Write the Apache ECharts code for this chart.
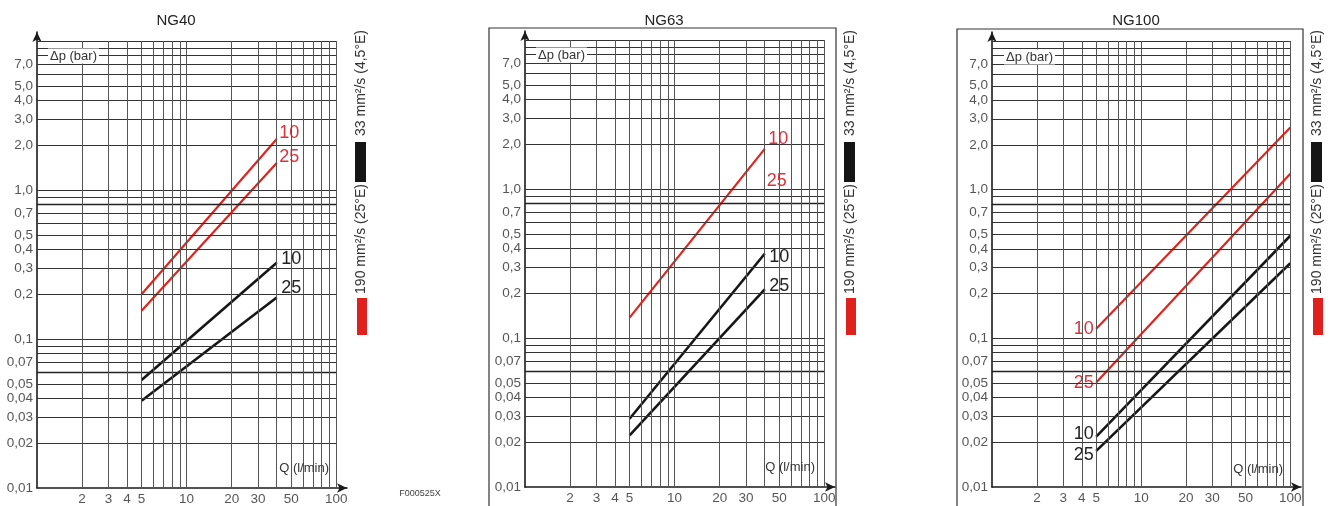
<!DOCTYPE html>
<html><head><meta charset="utf-8">
<script src="https://cdn.jsdelivr.net/npm/echarts@6/dist/echarts.min.js"></script>
<style>html,body{margin:0;padding:0;background:#fff}#c{width:1333px;height:506px}</style>
</head><body><div id="c"></div>
<script>
// ---- tick labels & grid values ----
const xTicks = [2, 3, 4, 5, 10, 20, 30, 50, 100];
const xTickLabels = ['2', '3', '4', '5', '10', '20', '30', '50', '100'];
const yTicks = [0.01, 0.02, 0.03, 0.04, 0.05, 0.07, 0.1, 0.2, 0.3, 0.4, 0.5, 0.7, 1, 2, 3, 4, 5, 7];
const yTickLabels = ['0,01', '0,02', '0,03', '0,04', '0,05', '0,07', '0,1', '0,2', '0,3', '0,4', '0,5', '0,7', '1,0', '2,0', '3,0', '4,0', '5,0', '7,0'];
const xGrid = [2, 3, 4, 5, 6, 7, 8, 9, 10, 20, 30, 40, 50, 60, 70, 80, 90, 100];
const yGrid = [0.01, 0.02, 0.03, 0.04, 0.05, 0.06, 0.07, 0.08, 0.09, 0.1, 0.2, 0.3, 0.4, 0.5, 0.6, 0.7, 0.8, 0.9, 1, 2, 3, 4, 5, 6, 7, 8, 9, 10];
const yGridHeavy = [0.06, 0.8];
const panelTitles = ['NG40', 'NG63', 'NG100'];
const legendTexts = ['33 mm²/s (4,5°E)', '190 mm²/s (25°E)'];

// ---- curves: [Q (l/min), Δp (bar)] ----
const ng40Red10 = [[5, 0.20], [40, 2.20]];
const ng40Red25 = [[5, 0.155], [40, 1.52]];
const ng40Black10 = [[5, 0.053], [40, 0.325]];
const ng40Black25 = [[5, 0.0385], [40, 0.19]];
const ng63Red10 = [[5, 0.137], [40, 1.86]];
const ng63Black10 = [[5, 0.0287], [40, 0.368]];
const ng63Black25 = [[5, 0.0222], [40, 0.212]];
const ng100Red10 = [[5, 0.116], [100, 2.62]];
const ng100Red25 = [[5, 0.0504], [100, 1.28]];
const ng100Black10 = [[5, 0.0218], [100, 0.49]];
const ng100Black25 = [[5, 0.0175], [100, 0.32]];

const RED = '#e1231d', RED_TXT = '#d8333c', BLK = '#161616';
const FONT = 'Liberation Sans, Arial, sans-serif';

const panels = [
  { grid: { left: 37, top: 32, width: 310, height: 456 }, titleX: 176, stripX: 361, dp: [48, 56], q: [329, 468], frame: null,
    curves: [
      { pts: ng40Red10, color: RED, text: '10', at: 1, pos: 'right', offset: [0, -6] },
      { pts: ng40Red25, color: RED, text: '25', at: 1, pos: 'right', offset: [0, -6] },
      { pts: ng40Black10, color: BLK, text: '10', at: 1, pos: 'right', offset: [2, -4] },
      { pts: ng40Black25, color: BLK, text: '25', at: 1, pos: 'right', offset: [2, -9] }
    ], extra: null },
  { grid: { left: 525, top: 31, width: 310, height: 456 }, titleX: 664, stripX: 850, dp: [536, 55], q: [815, 467], frame: [489, 28, 347, 500],
    curves: [
      { pts: ng63Red10, color: RED, text: '10', at: 1, pos: 'right', offset: [1, -10] },
      { pts: ng63Black10, color: BLK, text: '10', at: 1, pos: 'right', offset: [2, 3] },
      { pts: ng63Black25, color: BLK, text: '25', at: 1, pos: 'right', offset: [2, -3] }
    ], extra: { text: '25', coord: [40, 1.13], color: RED_TXT } },
  { grid: { left: 992, top: 32, width: 309, height: 455 }, titleX: 1136, stripX: 1317, dp: [1004, 57], q: [1283, 469], frame: [957, 29, 346, 500],
    curves: [
      { pts: ng100Red10, color: RED, text: '10', at: 0, pos: 'left', offset: [0, 0] },
      { pts: ng100Red25, color: RED, text: '25', at: 0, pos: 'left', offset: [0, 0] },
      { pts: ng100Black10, color: BLK, text: '10', at: 0, pos: 'left', offset: [0, -3] },
      { pts: ng100Black25, color: BLK, text: '25', at: 0, pos: 'left', offset: [0, 4] }
    ], extra: null }
];

const grids = [], xAxes = [], yAxes = [], series = [], graphics = [];
const axisLine = { show: true, onZero: false, symbol: ['none', 'arrow'], symbolSize: [7, 10], lineStyle: { color: '#1a1a1a', width: 1.6 } };

panels.forEach((p, i) => {
  grids.push(p.grid);
  xAxes.push({ type: 'log', logBase: 10, gridIndex: i, min: 1, max: 118, axisLine, axisTick: { show: false }, axisLabel: { show: false }, splitLine: { show: false } });
  yAxes.push({ type: 'log', logBase: 10, gridIndex: i, min: 0.01, max: 11.5, axisLine, axisTick: { show: false }, axisLabel: { show: false }, splitLine: { show: false } });

  const gridLines = (vals, color, width, horiz) => ({
    type: 'line', xAxisIndex: i, yAxisIndex: i, data: [], z: 1, silent: true,
    markLine: {
      silent: true, symbol: 'none', animation: false, label: { show: false },
      lineStyle: { type: 'solid', color, width },
      emphasis: { disabled: true },
      data: vals.map(v => horiz ? [{ coord: [1, v] }, { coord: [100, v] }] : [{ coord: [v, 0.01] }, { coord: [v, 10] }])
    }
  });
  series.push(gridLines(yGrid.filter(v => v > 0.01 && yGridHeavy.indexOf(v) < 0), '#333', 1, true));
  series.push(gridLines(yGridHeavy, '#222', 1.4, true));
  series.push(gridLines(xGrid, '#555', 1, false));

  series.push({
    type: 'scatter', xAxisIndex: i, yAxisIndex: i, symbolSize: 0, clip: false, silent: true, z: 5,
    data: yTicks.map((v, k) => ({ value: [1, v], label: { formatter: yTickLabels[k] } })),
    label: { show: true, position: 'left', distance: 4, fontSize: 13.5, color: '#2a2a2a', fontFamily: FONT }
  });
  series.push({
    type: 'scatter', xAxisIndex: i, yAxisIndex: i, symbolSize: 0, clip: false, silent: true, z: 5,
    data: xTicks.map((v, k) => ({ value: [v, 0.01], label: { formatter: xTickLabels[k] } })),
    label: { show: true, position: 'bottom', distance: 4, fontSize: 13.5, color: '#2a2a2a', fontFamily: FONT }
  });

  p.curves.forEach((c, ci) => {
    const s = {
      type: 'line', xAxisIndex: i, yAxisIndex: i, z: 4, silent: true,
      symbol: 'circle', symbolSize: 1, showSymbol: true,
      itemStyle: { color: c.color },
      lineStyle: { color: c.color, width: c.color === RED ? 2.2 : 2.6 },
      label: { show: false },
      data: c.pts.map((pt, k) => k === c.at ? {
        value: pt, label: { show: true, formatter: c.text, position: c.pos, distance: 2, offset: c.offset,
          fontSize: 18, fontFamily: FONT, color: c.color === RED ? RED_TXT : '#222' }
      } : { value: pt })
    };
    if (ci === 0 && p.extra) {
      s.markPoint = { symbol: 'circle', symbolSize: 0, silent: true, animation: false,
        label: { show: true, position: 'right', distance: 2, formatter: p.extra.text, fontSize: 18, fontFamily: FONT, color: p.extra.color },
        data: [{ coord: p.extra.coord }] };
    }
    series.push(s);
  });

  graphics.push({ type: 'text', x: p.titleX, y: 21, z: 10, style: { text: panelTitles[i], fontSize: 15, fontFamily: FONT, fill: '#222', align: 'center', verticalAlign: 'middle' } });
  graphics.push({ type: 'text', x: p.dp[0], y: p.dp[1], z: 10, style: { text: 'Δp (bar)', fontSize: 13, fontFamily: FONT, fill: '#333', align: 'left', verticalAlign: 'middle', backgroundColor: '#fff', padding: [1, 2] } });
  graphics.push({ type: 'text', x: p.q[0], y: p.q[1], z: 10, style: { text: 'Q (l/min)', fontSize: 13, fontFamily: FONT, fill: '#333', align: 'right', verticalAlign: 'middle' } });
  graphics.push({ type: 'text', x: p.stripX, y: 83, rotation: Math.PI / 2, z: 10, style: { text: legendTexts[0], fontSize: 14, fontFamily: FONT, fill: '#333', align: 'center', verticalAlign: 'middle' } });
  graphics.push({ type: 'rect', z: 10, shape: { x: p.stripX - 6, y: 142, width: 11, height: 40 }, style: { fill: '#151515' } });
  graphics.push({ type: 'text', x: p.stripX, y: 239, rotation: Math.PI / 2, z: 10, style: { text: legendTexts[1], fontSize: 14, fontFamily: FONT, fill: '#333', align: 'center', verticalAlign: 'middle' } });
  graphics.push({ type: 'rect', z: 10, shape: { x: p.stripX - 4, y: 298, width: 10, height: 37 }, style: { fill: '#e0201c' } });
  if (p.frame) {
    graphics.push({ type: 'rect', z: 0, shape: { x: p.frame[0], y: p.frame[1], width: p.frame[2], height: p.frame[3] }, style: { fill: 'none', stroke: '#333', lineWidth: 1.2 } });
  }
});
graphics.push({ type: 'text', x: 420, y: 494, z: 10, style: { text: 'F000525X', fontSize: 9, fontFamily: FONT, fill: '#444', align: 'center', verticalAlign: 'middle' } });

const chart = echarts.init(document.getElementById('c'));
chart.setOption({
  animation: false,
  backgroundColor: '#fff',
  grid: grids, xAxis: xAxes, yAxis: yAxes, series, graphic: graphics
});
</script></body></html>
